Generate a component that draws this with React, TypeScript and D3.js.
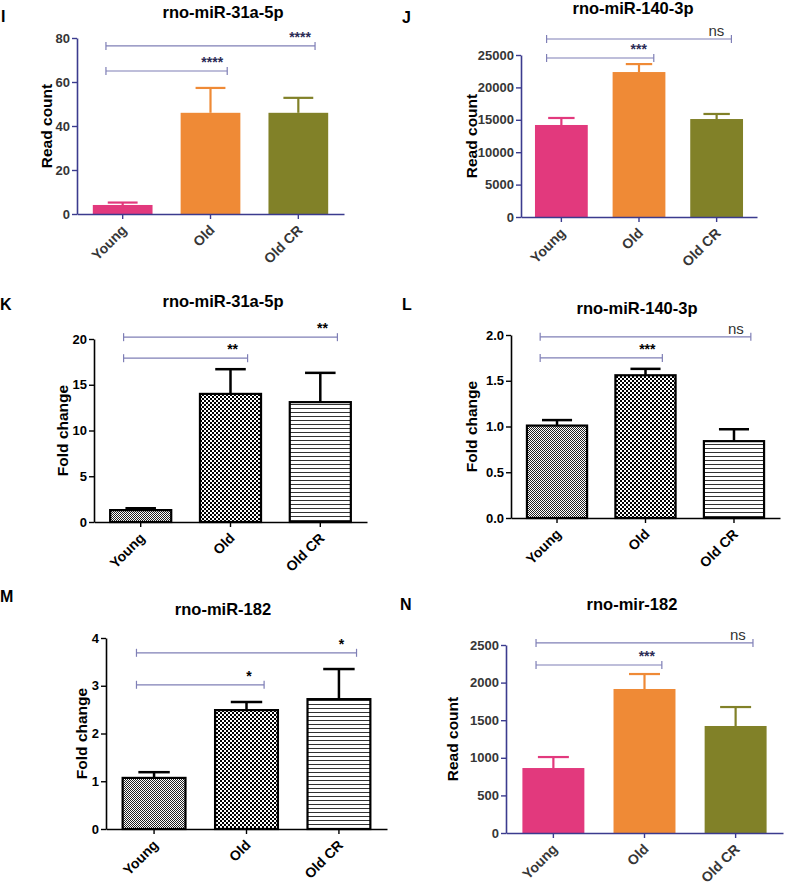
import React, { useEffect, useRef } from 'react';
import * as d3 from 'd3';

const groups = ['Young', 'Old', 'Old CR'];
const barColors = ['#e2397d', '#ef8a36', '#818128'];
const patternIds = ['fineChecker', 'checker', 'hLines'];

// I: rno-miR-31a-5p, read count
const iMeans = [4.1, 46, 46];
const iErrors = [1.1, 11.3, 6.8];
const iBrackets = [76.4, 65.0];
const iStars = ['****', '****'];

// J: rno-miR-140-3p, read count
const jMeans = [14200, 22370, 15120];
const jErrors = [1080, 1230, 780];
const jBrackets = [27470, 24540];
const jStars = ['ns', '***'];

// K: rno-miR-31a-5p, fold change
const kMeans = [1.3, 14.0, 13.1];
const kErrors = [0.2, 2.7, 3.2];
const kBrackets = [20.2, 17.9];
const kStars = ['**', '**'];

// L: rno-miR-140-3p, fold change
const lMeans = [1.01, 1.56, 0.84];
const lErrors = [0.06, 0.07, 0.13];
const lBrackets = [1.98, 1.75];
const lStars = ['ns', '***'];

// M: rno-miR-182, fold change
const mMeans = [1.07, 2.49, 2.72];
const mErrors = [0.12, 0.17, 0.63];
const mBrackets = [3.69, 3.02];
const mStars = ['*', '*'];

// N: rno-mir-182, read count
const nMeans = [864, 1915, 1423];
const nErrors = [146, 199, 252];
const nBrackets = [2527, 2234];
const nStars = ['ns', '***'];

// which pairs the brackets compare (Young vs Old CR, Young vs Old)
const bracketPairs = [[0, 2], [0, 1]];

const FONT = 'Liberation Sans, Arial, sans-serif';

interface PanelCfg {
  letter: string;
  letterPos: [number, number];
  title: string;
  titlePos: [number, number];
  yLabel: string;
  yLabelGap: number;
  means: number[];
  errors: number[];
  brackets: number[];
  stars: string[];
  yMax: number;
  yStep: number;
  fmt: (v: number) => string;
  kind: 'color' | 'pattern';
  box: { left: number; right: number; top: number; bottom: number };
}

const panels: PanelCfg[] = [
  {
    letter: 'I', letterPos: [1, 22], title: 'rno-miR-31a-5p', titlePos: [223, 18],
    yLabel: 'Read count', yLabelGap: 30, means: iMeans, errors: iErrors, brackets: iBrackets, stars: iStars,
    yMax: 80, yStep: 20, fmt: d3.format('d'), kind: 'color',
    box: { left: 77, right: 344, top: 38, bottom: 214 },
  },
  {
    letter: 'J', letterPos: [402, 23], title: 'rno-miR-140-3p', titlePos: [633, 14],
    yLabel: 'Read count', yLabelGap: 49, means: jMeans, errors: jErrors, brackets: jBrackets, stars: jStars,
    yMax: 25000, yStep: 5000, fmt: d3.format('d'), kind: 'color',
    box: { left: 521, right: 757, top: 55, bottom: 217 },
  },
  {
    letter: 'K', letterPos: [0, 310], title: 'rno-miR-31a-5p', titlePos: [223, 307],
    yLabel: 'Fold change', yLabelGap: 31, means: kMeans, errors: kErrors, brackets: kBrackets, stars: kStars,
    yMax: 20, yStep: 5, fmt: d3.format('d'), kind: 'pattern',
    box: { left: 94, right: 367, top: 339, bottom: 522 },
  },
  {
    letter: 'L', letterPos: [402, 310], title: 'rno-miR-140-3p', titlePos: [637, 314],
    yLabel: 'Fold change', yLabelGap: 39, means: lMeans, errors: lErrors, brackets: lBrackets, stars: lStars,
    yMax: 2, yStep: 0.5, fmt: d3.format('.1f'), kind: 'pattern',
    box: { left: 511, right: 780, top: 335, bottom: 518 },
  },
  {
    letter: 'M', letterPos: [0, 602], title: 'rno-miR-182', titlePos: [223, 615],
    yLabel: 'Fold change', yLabelGap: 24, means: mMeans, errors: mErrors, brackets: mBrackets, stars: mStars,
    yMax: 4, yStep: 1, fmt: d3.format('d'), kind: 'pattern',
    box: { left: 106, right: 387, top: 638, bottom: 829 },
  },
  {
    letter: 'N', letterPos: [400, 610], title: 'rno-mir-182', titlePos: [632, 610],
    yLabel: 'Read count', yLabelGap: 53, means: nMeans, errors: nErrors, brackets: nBrackets, stars: nStars,
    yMax: 2500, yStep: 500, fmt: d3.format('d'), kind: 'color',
    box: { left: 506, right: 783, top: 645, bottom: 833 },
  },
];

const Panel: React.FC<{ cfg: PanelCfg }> = ({ cfg }) => {
  const ref = useRef<SVGGElement>(null);

  useEffect(() => {
    if (!ref.current) return;
    const g = d3.select(ref.current);
    g.selectAll('*').remove();

    const { left, right, top, bottom } = cfg.box;
    const colored = cfg.kind === 'color';
    const axisColor = colored ? '#3b3b8e' : '#000';
    const textColor = colored ? '#363636' : '#000';
    const starColor = colored ? '#2b2b55' : '#000';
    const bracketColor = '#7f7fb6';

    const x = d3.scaleBand<string>()
      .domain(groups)
      .range([left, right])
      .paddingInner(0.32)
      .paddingOuter(0.18);
    const y = d3.scaleLinear().domain([0, cfg.yMax]).range([bottom, top]);
    const bw = x.bandwidth();
    const cx = (i: number) => (x(groups[i]) || 0) + bw / 2;

    // letter + title
    g.append('text')
      .attr('x', cfg.letterPos[0]).attr('y', cfg.letterPos[1])
      .attr('font-family', FONT).attr('font-weight', 'bold').attr('font-size', 16)
      .text(cfg.letter);
    g.append('text')
      .attr('x', cfg.titlePos[0]).attr('y', cfg.titlePos[1])
      .attr('text-anchor', 'middle')
      .attr('font-family', FONT).attr('font-weight', 'bold').attr('font-size', 16.5)
      .text(cfg.title);

    // error bars (upper only)
    const eb = g.append('g')
      .attr('stroke-width', colored ? 2.2 : 2.5);
    groups.forEach((d, i) => {
      const col = colored ? barColors[i] : '#000';
      const yTop = y(cfg.means[i] + cfg.errors[i]);
      eb.append('line')
        .attr('x1', cx(i)).attr('x2', cx(i))
        .attr('y1', y(cfg.means[i])).attr('y2', yTop)
        .attr('stroke', col);
      eb.append('line')
        .attr('x1', cx(i) - bw / 4).attr('x2', cx(i) + bw / 4)
        .attr('y1', yTop).attr('y2', yTop)
        .attr('stroke', col);
    });

    // bars
    g.append('g')
      .selectAll('rect')
      .data(groups)
      .join('rect')
      .attr('x', d => x(d) || 0)
      .attr('y', (d, i) => y(cfg.means[i]))
      .attr('width', bw)
      .attr('height', (d, i) => bottom - y(cfg.means[i]))
      .attr('fill', (d, i) => (colored ? barColors[i] : `url(#${patternIds[i]})`))
      .attr('stroke', colored ? 'none' : '#000')
      .attr('stroke-width', 2.2);

    // y axis
    const ticks = d3.range(0, cfg.yMax + cfg.yStep / 2, cfg.yStep);
    g.append('g')
      .attr('transform', `translate(${left},0)`)
      .call(d3.axisLeft(y).tickValues(ticks).tickFormat(v => cfg.fmt(+v)).tickSize(5).tickSizeOuter(0))
      .call(a => a.select('.domain').attr('stroke', axisColor).attr('stroke-width', 1.6))
      .call(a => a.selectAll('.tick line').attr('stroke', axisColor).attr('stroke-width', 1.4))
      .selectAll('text')
      .attr('font-family', FONT).attr('font-weight', 'bold').attr('font-size', 13)
      .attr('fill', textColor).attr('x', -7);

    // x axis
    g.append('g')
      .attr('transform', `translate(0,${bottom})`)
      .call(d3.axisBottom(x).tickSize(5).tickSizeOuter(0))
      .call(a => a.select('.domain').attr('stroke', axisColor).attr('stroke-width', 1.6))
      .call(a => a.selectAll('.tick line').attr('stroke', axisColor).attr('stroke-width', 1.4))
      .selectAll('text')
      .attr('font-family', FONT).attr('font-weight', 'bold').attr('font-size', 14)
      .attr('fill', textColor)
      .attr('text-anchor', 'end')
      .attr('y', 0).attr('dy', 0)
      .attr('transform', 'translate(5,17) rotate(-45)');

    // y label
    g.append('text')
      .attr('transform', `translate(${left - cfg.yLabelGap + 5},${(top + bottom) / 2}) rotate(-90)`)
      .attr('text-anchor', 'middle')
      .attr('font-family', FONT).attr('font-weight', 'bold').attr('font-size', 15.5)
      .text(cfg.yLabel);

    // significance brackets
    bracketPairs.forEach(([a, b], k) => {
      const x1 = cx(a) - bw * 0.28;
      const x2 = cx(b) + bw * 0.28;
      const yy = y(cfg.brackets[k]);
      const bg = g.append('g').attr('stroke', bracketColor).attr('stroke-width', 1.2);
      bg.append('line').attr('x1', x1).attr('x2', x2).attr('y1', yy).attr('y2', yy);
      bg.append('line').attr('x1', x1).attr('x2', x1).attr('y1', yy - 4).attr('y2', yy + 4);
      bg.append('line').attr('x1', x2).attr('x2', x2).attr('y1', yy - 4).attr('y2', yy + 4);
      const isNs = cfg.stars[k] === 'ns';
      g.append('text')
        .attr('x', x2 - 15)
        .attr('y', yy - (isNs ? 3 : 4))
        .attr('text-anchor', 'middle')
        .attr('font-family', FONT)
        .attr('font-weight', isNs ? 'normal' : 'bold')
        .attr('font-size', isNs ? 15 : 14)
        .attr('fill', isNs ? '#333' : starColor)
        .text(cfg.stars[k]);
    });
  }, [cfg]);

  return <g ref={ref} />;
};

export default function App() {
  return (
    <svg
      width={787}
      height={889}
      viewBox="0 0 787 889"
      style={{ position: 'absolute', left: 0, top: 0, background: '#fff' }}
    >
      <defs>
        <pattern id="fineChecker" width={2} height={2} patternUnits="userSpaceOnUse">
          <rect width={2} height={2} fill="#fff" />
          <rect width={1} height={1} fill="#222" />
          <rect x={1} y={1} width={1} height={1} fill="#222" />
        </pattern>
        <pattern id="checker" width={4} height={4} patternUnits="userSpaceOnUse">
          <rect width={4} height={4} fill="#fff" />
          <rect width={2} height={2} fill="#000" />
          <rect x={2} y={2} width={2} height={2} fill="#000" />
        </pattern>
        <pattern id="hLines" width={4} height={4} patternUnits="userSpaceOnUse">
          <rect width={4} height={4} fill="#fff" />
          <rect y={0} width={4} height={1} fill="#333" />
        </pattern>
      </defs>
      <rect width={787} height={889} fill="#fff" />
      {panels.map(p => (
        <Panel key={p.letter} cfg={p} />
      ))}
    </svg>
  );
}
